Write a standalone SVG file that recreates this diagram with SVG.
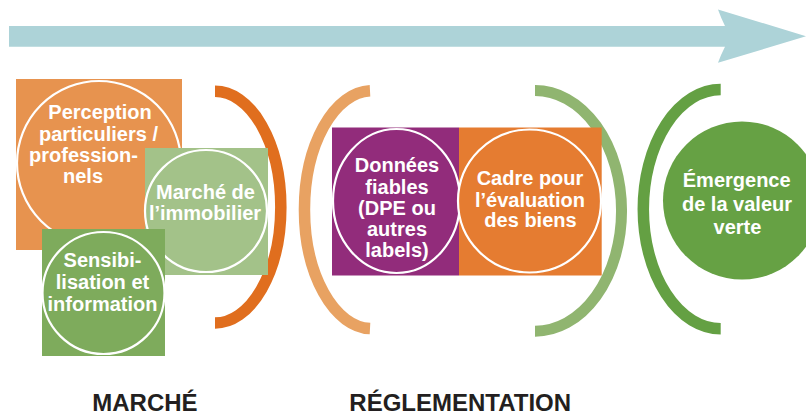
<svg xmlns="http://www.w3.org/2000/svg" width="806" height="417" viewBox="0 0 806 417">
  <style>
    .ring { fill: none; stroke: #FFFFFF; stroke-width: 2.2; }
    .lbl { font-family: "Liberation Sans", Arial, sans-serif; font-weight: bold; font-size: 20px; fill: #FFFFFF; text-anchor: middle; }
    .sec { font-family: "Liberation Sans", Arial, sans-serif; font-weight: bold; font-size: 24px; fill: #231F20; }
    .arc { fill: none; stroke-linecap: butt; }
  </style>
  <rect width="806" height="417" fill="#FFFFFF"/>

  <g id="timeline-arrow">
    <path d="M9,26 L725,26 Q721,18 718,9.5 L806,36.2 L718,62.8 Q721,54.5 725,46.8 L9,46.8 Z" fill="#ADD3D8"/>
  </g>

  <g id="connectors">
    <path class="arc" d="M215,91.3 A65.8,115.8 0 0 1 215,323" stroke="#E06E1E" stroke-width="11.5"/>
    <path class="arc" d="M370,90.7 A67.5,119 0 0 0 370,328.6" stroke="#E8A262" stroke-width="11.5"/>
    <path class="arc" d="M535,90.5 A86.5,120.3 0 0 1 535,331.2" stroke="#90B570" stroke-width="11"/>
    <path class="arc" d="M720.7,89.5 A77.4,119.6 0 0 0 720.7,328.8" stroke="#64A043" stroke-width="11.5"/>
  </g>

  <g id="node-perception">
    <rect x="16" y="79" width="166" height="171" fill="#E7934F"/>
    <circle class="ring" cx="99" cy="163" r="82"/>
    <text class="lbl" x="100" y="119.3">Perception</text>
    <text class="lbl" x="98.5" y="140.5">particuliers /</text>
    <text class="lbl" x="83.5" y="161.7">profession-</text>
    <text class="lbl" x="83" y="182.5">nels</text>
  </g>

  <g id="node-marche-immobilier">
    <rect x="145" y="148" width="123" height="127" fill="#A3C289"/>
    <circle class="ring" cx="206" cy="211" r="61"/>
    <text class="lbl" x="205.5" y="199.3">Marché de</text>
    <text class="lbl" x="205" y="220">l’immobilier</text>
  </g>

  <g id="node-sensibilisation">
    <rect x="42" y="229" width="123" height="127" fill="#7EAB5C"/>
    <circle class="ring" cx="103.5" cy="293" r="61"/>
    <text class="lbl" x="102.5" y="267.3">Sensibi-</text>
    <text class="lbl" x="102.5" y="289">lisation et</text>
    <text class="lbl" x="102.5" y="310.7">information</text>
  </g>

  <g id="node-donnees">
    <rect x="332" y="127.5" width="127" height="148" fill="#922C7B"/>
    <ellipse class="ring" cx="396.5" cy="201" rx="63.5" ry="72"/>
    <text class="lbl" x="397" y="172">Données</text>
    <text class="lbl" x="397" y="193.5">fiables</text>
    <text class="lbl" x="397" y="215">(DPE ou</text>
    <text class="lbl" x="397" y="236">autres</text>
    <text class="lbl" x="397" y="257">labels)</text>
  </g>

  <g id="node-cadre">
    <rect x="459" y="127.5" width="142.7" height="148" fill="#E57C31"/>
    <circle class="ring" cx="529.5" cy="201" r="71.5"/>
    <text class="lbl" x="530" y="185">Cadre pour</text>
    <text class="lbl" x="530" y="206.7">l’évaluation</text>
    <text class="lbl" x="530.5" y="227.3">des biens</text>
  </g>

  <g id="node-emergence">
    <circle cx="742" cy="200.5" r="79" fill="#66A144"/>
    <text class="lbl" x="736.7" y="186.7">Émergence</text>
    <text class="lbl" x="737" y="210.5">de la valeur</text>
    <text class="lbl" x="737.5" y="234.3">verte</text>
  </g>

  <g id="section-labels">
    <text class="sec" x="92.3" y="410.7">MARCHÉ</text>
    <text class="sec" x="349.3" y="410.7">RÉGLEMENTATION</text>
  </g>
</svg>
